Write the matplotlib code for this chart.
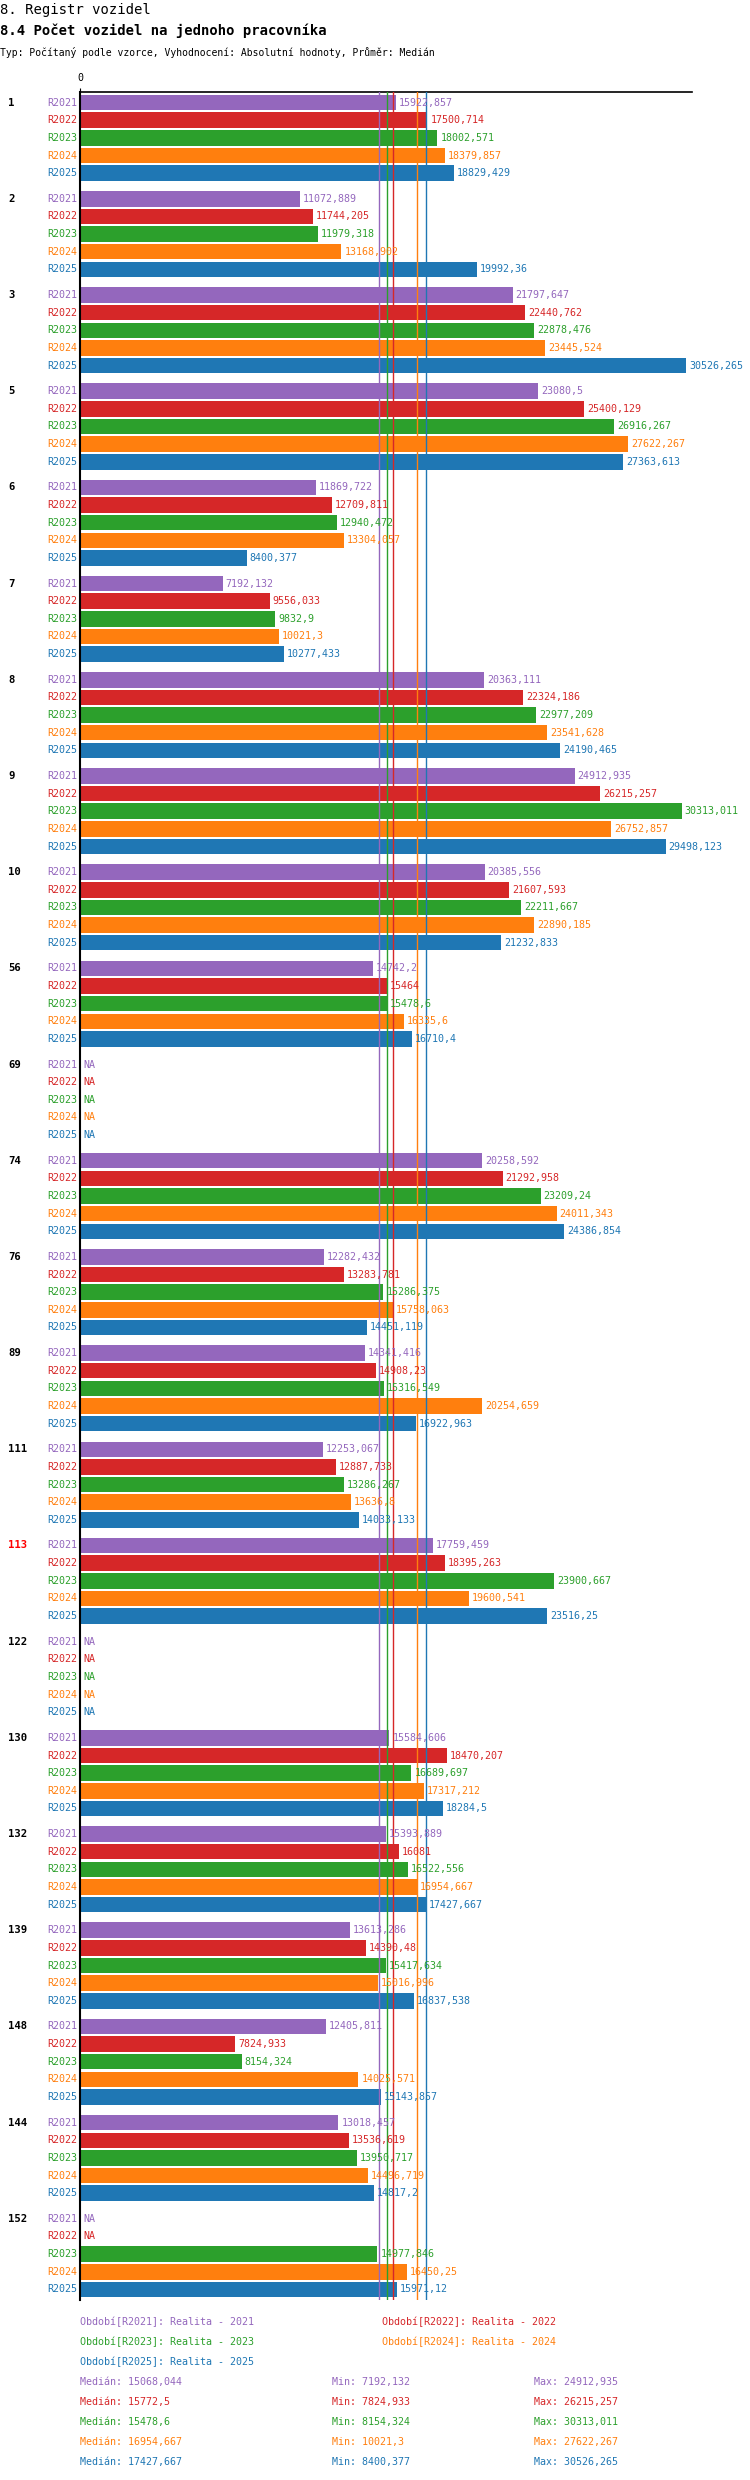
import numpy as np
import matplotlib
matplotlib.use("Agg")
import matplotlib.pyplot as plt

plt.rcParams['font.family'] = ['DejaVu Sans Mono']

groups = ["1", "2", "3", "5", "6", "7", "8", "9", "10", "56", "69", "74", "76", "89",
          "111", "113", "122", "130", "132", "139", "148", "144", "152"]
series = ["R2021", "R2022", "R2023", "R2024", "R2025"]
colors = ["#9467bd", "#d62728", "#2ca02c", "#ff7f0e", "#1f77b4"]
NA = None
r2021 = [15922.857, 11072.889, 21797.647, 23080.5, 11869.722, 7192.132, 20363.111, 24912.935, 20385.556, 14742.2, NA,
         20258.592, 12282.432, 14341.416, 12253.067, 17759.459, NA, 15584.606, 15393.889, 13613.286, 12405.811, 13018.457, NA]
r2022 = [17500.714, 11744.205, 22440.762, 25400.129, 12709.811, 9556.033, 22324.186, 26215.257, 21607.593, 15464, NA,
         21292.958, 13283.781, 14908.23, 12887.733, 18395.263, NA, 18470.207, 16081, 14390.48, 7824.933, 13536.619, NA]
r2023 = [18002.571, 11979.318, 22878.476, 26916.267, 12940.472, 9832.9, 22977.209, 30313.011, 22211.667, 15478.6, NA,
         23209.24, 15286.375, 15316.549, 13286.267, 23900.667, NA, 16689.697, 16522.556, 15417.634, 8154.324, 13950.717, 14977.846]
r2024 = [18379.857, 13168.902, 23445.524, 27622.267, 13304.057, 10021.3, 23541.628, 26752.857, 22890.185, 16335.6, NA,
         24011.343, 15758.063, 20254.659, 13636.8, 19600.541, NA, 17317.212, 16954.667, 15016.996, 14025.571, 14496.719, 16450.25]
r2025 = [18829.429, 19992.36, 30526.265, 27363.613, 8400.377, 10277.433, 24190.465, 29498.123, 21232.833, 16710.4, NA,
         24386.854, 14451.119, 16922.963, 14033.133, 23516.25, NA, 18284.5, 17427.667, 16837.538, 15143.857, 14817.2, 15971.12]
values = [r2021, r2022, r2023, r2024, r2025]
highlight = "113"


def fmt(v):
    s = ("%.3f" % v).rstrip("0").rstrip(".")
    return s.replace(".", ",")


stats = []
for vals in values:
    v = np.array([x for x in vals if x is not None])
    stats.append((np.median(v), v.min(), v.max()))

W, H = 750, 2480
fig = plt.figure(figsize=(W / 100, H / 100), dpi=100)
top_px, bot_px = 92, 2300
ax_l, ax_w = 80, 612
ax = fig.add_axes([ax_l / W, 1 - bot_px / H, ax_w / W, (bot_px - top_px) / H])

gap = 0.45
pitch = 5 + gap
n = len(groups)
ax.set_ylim(n * pitch - gap + 0.1, -0.1)
ax.set_xlim(0, 30830)

fs = 7.2
for gi, g in enumerate(groups):
    base = gi * pitch
    ax.text(-(ax_l - 8) / ax_w, base + 0.5, g, transform=ax.get_yaxis_transform(), ha="left", va="center",
            fontsize=fs + 0.5, fontweight="bold", color="red" if g == highlight else "black")
    for si in range(5):
        y = base + si + 0.5
        v = values[si][gi]
        ax.text(-0.005, y, series[si], transform=ax.get_yaxis_transform(), ha="right", va="center",
                fontsize=fs, color=colors[si])
        if v is None:
            ax.text(150, y, "NA", ha="left", va="center", fontsize=fs, color=colors[si])
        else:
            ax.barh(y, v, height=0.88, color=colors[si], zorder=2)
            ax.text(v + 150, y, fmt(v), ha="left", va="center", fontsize=fs, color=colors[si], zorder=4)

for si in range(5):
    ax.axvline(stats[si][0], color=colors[si], lw=1, zorder=3)

for s in ["right", "bottom"]:
    ax.spines[s].set_visible(False)
ax.spines["top"].set_linewidth(1.2)
ax.spines["left"].set_linewidth(1.5)
ax.set_yticks([])
ax.set_xticks([0])
ax.xaxis.tick_top()
ax.tick_params(axis="x", length=3, labelsize=fs)

fig.text(0, 1 - 10 / H, "8. Registr vozidel", fontsize=10, va="center")
fig.text(0, 1 - 31 / H, "8.4 Počet vozidel na jednoho pracovníka", fontsize=10, fontweight="bold", va="center")
fig.text(0, 1 - 52 / H, "Typ: Počítaný podle vzorce, Vyhodnocení: Absolutní hodnoty, Průměr: Medián",
         fontsize=7, va="center")

leg_pos = [(80, 2322), (382, 2322), (80, 2342), (382, 2342), (80, 2362)]
for si in range(5):
    x, y = leg_pos[si]
    fig.text(x / W, 1 - y / H, "Období[%s]: Realita - %s" % (series[si], series[si][1:]),
             fontsize=fs, color=colors[si], va="center")
    med, mn, mx = stats[si]
    yy = 1 - (2382 + 20 * si) / H
    fig.text(80 / W, yy, "Medián: " + fmt(med), fontsize=fs, color=colors[si], va="center")
    fig.text(332 / W, yy, "Min: " + fmt(mn), fontsize=fs, color=colors[si], va="center")
    fig.text(534 / W, yy, "Max: " + fmt(mx), fontsize=fs, color=colors[si], va="center")

fig.savefig("out.png", dpi=100)
